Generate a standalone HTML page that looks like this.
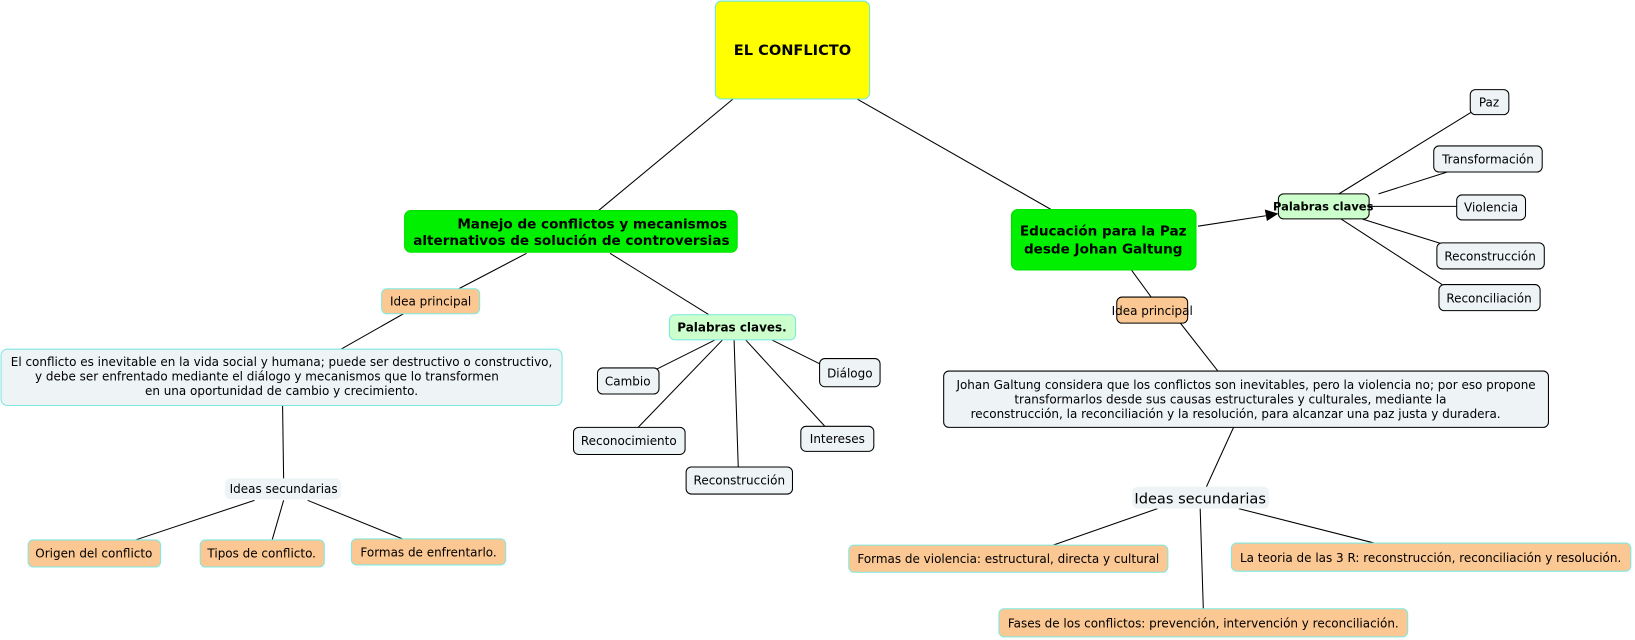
<!DOCTYPE html>
<html><head><meta charset="utf-8"><style>
html,body{margin:0;padding:0;background:#fff;width:1635px;height:640px;overflow:hidden}
svg{display:block}
text{font-family:"DejaVu Sans","Liberation Sans",sans-serif;fill:#000}
.n{font-size:11.5px}
.b{font-weight:bold}
</style></head><body>
<svg width="1635" height="640" viewBox="0 0 1568 614" preserveAspectRatio="none">
<g stroke="#000" stroke-width="1" fill="none">
<line x1="703" y1="95" x2="574" y2="202"/>
<line x1="822" y1="95" x2="1008" y2="201"/>
<line x1="505" y1="243" x2="440" y2="277"/>
<line x1="387" y1="301" x2="327" y2="335"/>
<line x1="585" y1="243" x2="680" y2="302"/>
<line x1="271" y1="389" x2="272" y2="459"/>
<line x1="244" y1="480" x2="130" y2="518"/>
<line x1="272" y1="480" x2="261" y2="518"/>
<line x1="295" y1="480" x2="386" y2="517"/>
<line x1="686" y1="326" x2="628" y2="355"/>
<line x1="693" y1="326" x2="612" y2="410"/>
<line x1="704" y1="326" x2="708" y2="448"/>
<line x1="715" y1="326" x2="792" y2="410"/>
<line x1="740" y1="326" x2="788" y2="350"/>
<line x1="1149" y1="217" x2="1214" y2="207"/>
<line x1="1284" y1="186" x2="1412" y2="107"/>
<line x1="1322" y1="186" x2="1388" y2="165"/>
<line x1="1313" y1="198" x2="1397" y2="198"/>
<line x1="1306" y1="210" x2="1383" y2="234"/>
<line x1="1286" y1="210" x2="1383" y2="273"/>
<line x1="1085" y1="259" x2="1104" y2="285"/>
<line x1="1132" y1="310" x2="1168" y2="356"/>
<line x1="1183" y1="410" x2="1157" y2="467"/>
<line x1="1110" y1="488" x2="1010" y2="523"/>
<line x1="1151" y1="488" x2="1154" y2="584"/>
<line x1="1188" y1="488" x2="1318" y2="521"/>
</g>
<polygon points="1226,205 1213,201 1215,212" fill="#000"/>

<!-- main -->
<rect x="686" y="1" width="148" height="94" rx="6" fill="#ffff00" stroke="#66e8e0"/>
<text x="760" y="53" text-anchor="middle" class="b" font-size="14">EL CONFLICTO</text>

<rect x="388" y="202" width="319" height="40" rx="6" fill="#00f000" stroke="#00e000"/>
<text x="568" y="219" text-anchor="middle" class="b" font-size="13">Manejo de conflictos y mecanismos</text>
<text x="548" y="235" text-anchor="middle" class="b" font-size="13">alternativos de solución de controversias</text>

<rect x="970" y="201" width="177" height="58" rx="6" fill="#00f000" stroke="#00e000"/>
<text x="1058" y="226" text-anchor="middle" class="b" font-size="13">Educación para la Paz</text>
<text x="1058" y="243" text-anchor="middle" class="b" font-size="13">desde Johan Galtung</text>

<!-- right keywords -->
<rect x="1226" y="186" width="87" height="24" rx="5" fill="#ccffcc" stroke="#000"/>
<text x="1269" y="202" text-anchor="middle" class="b" font-size="11">Palabras claves</text>
<g fill="#eef3f5" stroke="#000">
<rect x="1410" y="86" width="37" height="24" rx="5"/>
<rect x="1375" y="140" width="104" height="25" rx="5"/>
<rect x="1397" y="187" width="66" height="24" rx="5"/>
<rect x="1378" y="233" width="103" height="25" rx="5"/>
<rect x="1380" y="273" width="97" height="25" rx="5"/>
<rect x="905" y="356" width="580" height="54" rx="5"/>
</g>
<g class="n" text-anchor="middle">
<text x="1428" y="102">Paz</text>
<text x="1427" y="157">Transformación</text>
<text x="1430" y="203">Violencia</text>
<text x="1429" y="250">Reconstrucción</text>
<text x="1428" y="290">Reconciliación</text>
<text x="1195" y="373">Johan Galtung considera que los conflictos son inevitables, pero la violencia no; por eso propone</text>
<text x="1180" y="387">transformarlos desde sus causas estructurales y culturales, mediante la</text>
<text x="1185" y="401">reconstrucción, la reconciliación y la resolución, para alcanzar una paz justa y duradera.</text>
</g>

<rect x="1071" y="285" width="68" height="25" rx="5" fill="#fbc893" stroke="#000"/>
<text x="1105" y="302" text-anchor="middle" class="n">Idea principal</text>

<rect x="1086" y="467" width="131" height="21" rx="5" fill="#eef3f5"/>
<text x="1151" y="483" text-anchor="middle" font-size="14">Ideas secundarias</text>

<g fill="#fbc893" stroke="#7fe8e0">
<rect x="814" y="523" width="306" height="26" rx="5"/>
<rect x="1181" y="521" width="383" height="27" rx="5"/>
<rect x="958" y="584" width="392" height="27" rx="5"/>
<rect x="366" y="277" width="94" height="24" rx="5"/>
<rect x="27" y="518" width="127" height="26" rx="5"/>
<rect x="192" y="518" width="119" height="26" rx="5"/>
<rect x="337" y="517" width="148" height="25" rx="5"/>
</g>
<g class="n" text-anchor="middle">
<text x="967" y="540">Formas de violencia: estructural, directa y cultural</text>
<text x="1372" y="539">La teoria de las 3 R: reconstrucción, reconciliación y resolución.</text>
<text x="1154" y="602">Fases de los conflictos: prevención, intervención y reconciliación.</text>
<text x="413" y="293">Idea principal</text>
<text x="90" y="535">Origen del conflicto</text>
<text x="251" y="535">Tipos de conflicto.</text>
<text x="411" y="534">Formas de enfrentarlo.</text>
</g>

<!-- left main text -->
<rect x="1" y="335" width="538" height="54" rx="6" fill="#eef3f5" stroke="#7fe8e0"/>
<g class="n" text-anchor="middle">
<text x="270" y="351">El conflicto es inevitable en la vida social y humana; puede ser destructivo o constructivo,</text>
<text x="256" y="365">y debe ser enfrentado  mediante el diálogo y mecanismos que lo transformen</text>
<text x="270" y="379">en una oportunidad de cambio y crecimiento.</text>
</g>

<rect x="216" y="459" width="111" height="20" rx="5" fill="#eef3f5"/>
<text x="272" y="473" text-anchor="middle" class="n">Ideas secundarias</text>

<rect x="642" y="302" width="121" height="24" rx="5" fill="#ccffcc" stroke="#7fe8e0"/>
<text x="702" y="318" text-anchor="middle" class="b" font-size="11.5">Palabras claves.</text>

<g fill="#eef3f5" stroke="#000">
<rect x="573" y="353" width="59" height="25" rx="5"/>
<rect x="786" y="344" width="58" height="27" rx="5"/>
<rect x="550" y="410" width="107" height="26" rx="5"/>
<rect x="768" y="409" width="70" height="24" rx="5"/>
<rect x="658" y="448" width="102" height="26" rx="5"/>
</g>
<g class="n" text-anchor="middle">
<text x="602" y="370">Cambio</text>
<text x="815" y="362">Diálogo</text>
<text x="603" y="427">Reconocimiento</text>
<text x="803" y="425">Intereses</text>
<text x="709" y="465">Reconstrucción</text>
</g>
</svg>
</body></html>
